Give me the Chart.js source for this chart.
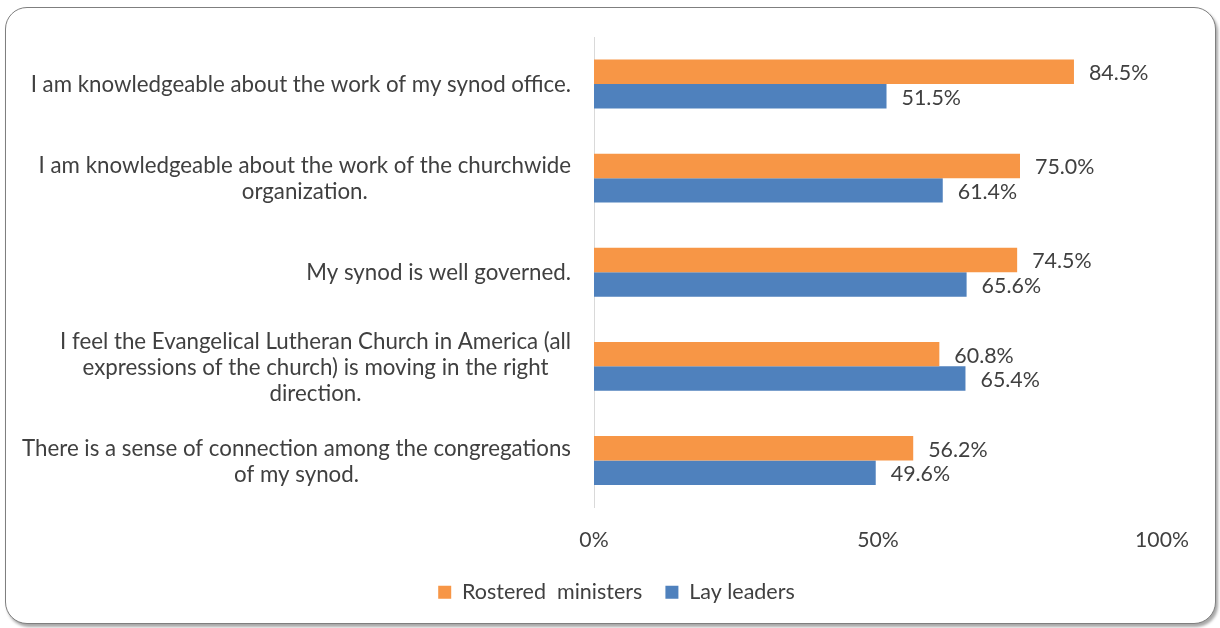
<!DOCTYPE html>
<html>
<head>
<meta charset="utf-8">
<script src="https://cdn.jsdelivr.net/npm/chart.js@4/dist/chart.umd.min.js"></script>
<style>
  html, body { margin: 0; padding: 0; background: #ffffff; }
  #wrap { position: relative; width: 1220px; height: 628px; overflow: hidden; }
  #frame {
    position: absolute; left: 5px; top: 7px; width: 1209px; height: 615px;
    border: 1.6px solid #7f7f7f; border-radius: 22px; background: #fff;
    box-shadow: 2px 3px 3px rgba(0,0,0,0.35);
  }
  #c { position: absolute; left: 0; top: 0; }
</style>
</head>
<body>
<div id="wrap">
  <div id="frame"></div>
  <canvas id="c" width="1220" height="628"></canvas>
</div>
<script>
const categories = [
  ["I am knowledgeable about the work of my synod office."],
  ["I am knowledgeable about the work of the churchwide", "organization."],
  ["My synod is well governed."],
  ["I feel the Evangelical Lutheran Church in America (all", "expressions of the church) is moving in the right", "direction."],
  ["There is a sense of connection among the congregations", "of my synod."]
];
const rosteredMinisters = [84.5, 75.0, 74.5, 60.8, 56.2];
const layLeaders = [51.5, 61.4, 65.6, 65.4, 49.6];
const seriesNames = ["Rostered  ministers", "Lay leaders"];
const xTicks = [0, 50, 100];

const FONT = "Lato, 'Open Sans', sans-serif";
const TEXT = "#404040";

const valueLabels = {
  id: 'valueLabels',
  afterDatasetsDraw(chart) {
    const ctx = chart.ctx;
    ctx.save();
    ctx.font = "21.4px " + FONT;
    ctx.fillStyle = TEXT;
    ctx.textAlign = 'left';
    ctx.textBaseline = 'middle';
    chart.data.datasets.forEach((ds, di) => {
      const meta = chart.getDatasetMeta(di);
      meta.data.forEach((el, i) => {
        ctx.fillText(ds.data[i].toFixed(1) + '%', el.x + 15, el.y + 1.5);
      });
    });
    ctx.restore();
  }
};

const catLabels = {
  id: 'catLabels',
  afterDraw(chart) {
    const ctx = chart.ctx;
    const y = chart.scales.y;
    ctx.save();
    ctx.font = "22.3px " + FONT;
    ctx.fillStyle = TEXT;
    ctx.textAlign = 'center';
    ctx.textBaseline = 'middle';
    const lh = 26;
    const right = 571;
    categories.forEach((lines, i) => {
      const cy = y.getPixelForValue(i) + 1;
      const maxW = Math.max(...lines.map(l => ctx.measureText(l).width));
      const cx = right - maxW / 2;
      const top = cy - (lines.length - 1) * lh / 2;
      lines.forEach((l, k) => ctx.fillText(l, cx, top + k * lh));
    });
    ctx.restore();
  }
};

new Chart(document.getElementById('c'), {
  type: 'bar',
  data: {
    labels: categories.map(c => c.join(' ')),
    datasets: [
      { label: seriesNames[0], data: rosteredMinisters, backgroundColor: '#F79646', borderWidth: 0 },
      { label: seriesNames[1], data: layLeaders, backgroundColor: '#4F81BD', borderWidth: 0 }
    ]
  },
  options: {
    indexAxis: 'y',
    responsive: false,
    animation: false,
    devicePixelRatio: 1,
    layout: { padding: { left: 71, right: 58, top: 37, bottom: 15 } },
    datasets: { bar: { categoryPercentage: 0.52, barPercentage: 1.0 } },
    scales: {
      x: {
        min: 0, max: 100,
        afterBuildTicks(scale) { scale.ticks = xTicks.map(v => ({ value: v })); },
        grid: { display: false },
        border: { display: false },
        ticks: {
          font: { family: FONT, size: 21.2 }, color: TEXT, padding: 12,
          callback: (v) => v + '%', maxRotation: 0
        },
        afterFit(scale) { scale.height = 51; }
      },
      y: {
        grid: { display: false },
        border: { display: true, color: '#d9d9d9', width: 1 },
        ticks: { display: false },
        afterFit(scale) { scale.width = 523; }
      }
    },
    plugins: {
      legend: {
        position: 'bottom',
        labels: {
          font: { family: FONT, size: 21.5 }, color: TEXT,
          boxWidth: 13, boxHeight: 13, padding: 23
        }
      },
      tooltip: { enabled: false }
    }
  },
  plugins: [valueLabels, catLabels]
});
</script>
</body>
</html>
